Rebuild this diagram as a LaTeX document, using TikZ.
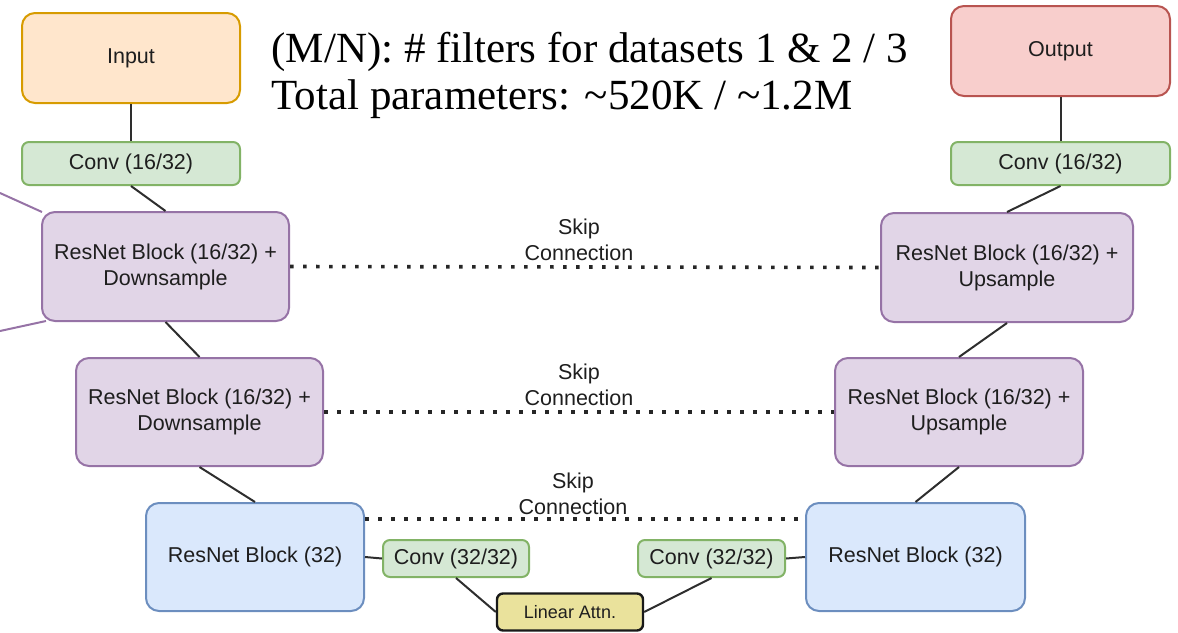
\documentclass[tikz,border=0pt]{standalone}
\usepackage{fontspec}
\setmainfont{Liberation Serif}
\newfontfamily\labelfont{Liberation Sans}
\usetikzlibrary{calc}
\definecolor{inFill}{HTML}{FFE6CC}
\definecolor{inLine}{HTML}{D79B00}
\definecolor{outFill}{HTML}{F8CECC}
\definecolor{outLine}{HTML}{B85450}
\definecolor{gFill}{HTML}{D5E8D4}
\definecolor{gLine}{HTML}{82B366}
\definecolor{pFill}{HTML}{E1D5E7}
\definecolor{pLine}{HTML}{9673A6}
\definecolor{bFill}{HTML}{DAE8FC}
\definecolor{bLine}{HTML}{6C8EBF}
\definecolor{yFill}{HTML}{EAE29C}
\definecolor{txt}{HTML}{1E1E1E}
\definecolor{wire}{HTML}{2E2E2E}
\tikzset{
  box/.style={rectangle, rounded corners=13pt, line width=2pt, inner sep=0pt,
    align=center, text=txt, font=\labelfont\fontsize{21.5}{26}\selectfont},
  iobox/.style={box, minimum width=218pt, minimum height=90pt},
  convbox/.style={box, rounded corners=7pt, fill=gFill, draw=gLine},
  resbox/.style={box, fill=pFill, draw=pLine, minimum height=108pt},
  bluebox/.style={box, fill=bFill, draw=bLine, minimum width=218pt, minimum height=108pt},
  wireline/.style={draw=wire, line width=2pt},
  feedline/.style={draw=pLine, line width=2pt},
  skipline/.style={draw=black!85, line width=3.6pt, dash pattern=on 3.6pt off 9.4pt},
  skiplabel/.style={align=center, text=txt, font=\labelfont\fontsize{21.5}{26}\selectfont},
}
\begin{document}
\begin{tikzpicture}[x=1pt,y=-1pt]
\useasboundingbox (0,0) rectangle (1178,632);

% header notes
\node[anchor=base west, font=\fontsize{43}{46}\selectfont] (note1) at (268,62)
  {(M/N): \# filters for datasets 1 \& 2 / 3};
\node[anchor=base west, font=\fontsize{43}{46}\selectfont] (note2) at (268,109)
  {Total parameters: \textasciitilde520K / \textasciitilde1.2M};

% encoder side
\node[iobox, fill=inFill, draw=inLine] (input) at (131,58) {Input};
\node[convbox, minimum width=218pt, minimum height=43pt] (convL) at (131,163.5) {Conv (16/32)};
\node[resbox, minimum width=247pt, minimum height=109pt] (rn1L) at (165.5,266.5) {ResNet Block (16/32) +\\Downsample};
\node[resbox, minimum width=247pt] (rn2L) at (199.5,412) {ResNet Block (16/32) +\\Downsample};
\node[bluebox] (rbL) at (255,557) {ResNet Block (32)};

% bottleneck
\node[convbox, minimum width=146pt, minimum height=37pt] (c32L) at (456,558.5) {Conv (32/32)};
\node[box, rounded corners=6pt, fill=yFill, draw=black!90, line width=2.4pt,
  minimum width=146pt, minimum height=37pt, font=\labelfont\fontsize{18}{22}\selectfont] (attn) at (570,612) {Linear Attn.};
\node[convbox, minimum width=147pt, minimum height=37pt] (c32R) at (711.5,558.5) {Conv (32/32)};

% decoder side
\node[bluebox, minimum width=219pt] (rbR) at (915.5,557) {ResNet Block (32)};
\node[resbox, minimum width=248pt] (rn2R) at (959,412) {ResNet Block (16/32) +\\Upsample};
\node[resbox, minimum width=252pt, minimum height=109pt] (rn1R) at (1007,267.5) {ResNet Block (16/32) +\\Upsample};
\node[convbox, minimum width=219pt, minimum height=43pt] (convR) at (1060.5,163.5) {Conv (16/32)};
\node[iobox, minimum width=219pt, fill=outFill, draw=outLine] (output) at (1060.5,51) {Output};

% main path
\draw[wireline] (input.south) -- (convL.north);
\draw[wireline] (convL.south) -- (rn1L.north);
\draw[wireline] (rn1L.south) -- (rn2L.north);
\draw[wireline] (rn2L.south) -- (rbL.north);
\draw[wireline] (rbL.east) -- (c32L.west);
\draw[wireline] (c32L.south) -- (attn.west);
\draw[wireline] (attn.east) -- (c32R.south);
\draw[wireline] (c32R.east) -- (rbR.west);
\draw[wireline] (rbR.north) -- (rn2R.south);
\draw[wireline] (rn2R.north) -- (rn1R.south);
\draw[wireline] (rn1R.north) -- (convR.south);
\draw[wireline] (convR.north) -- (output.south);

% links entering the first block from the left
\coordinate (inA) at (0,193);
\coordinate (inB) at (0,331);
\draw[feedline] (inA) -- ([xshift=1pt,yshift=-1pt]rn1L.north west);
\draw[feedline] (inB) -- ([xshift=5pt,yshift=1pt]rn1L.south west);

% skip connections
\draw[skipline] (rn1L.east) -- (rn1R.west);
\draw[skipline] (rn2L.east) -- (rn2R.west);
\draw[skipline] ([yshift=-17pt]rbL.north east) -- ([yshift=-17pt]rbR.north west);
\node[skiplabel] (skip1) at (579,240) {Skip\\Connection};
\node[skiplabel] (skip2) at (579,385) {Skip\\Connection};
\node[skiplabel] (skip3) at (573,493.5) {Skip\\Connection};
\end{tikzpicture}
\end{document}
